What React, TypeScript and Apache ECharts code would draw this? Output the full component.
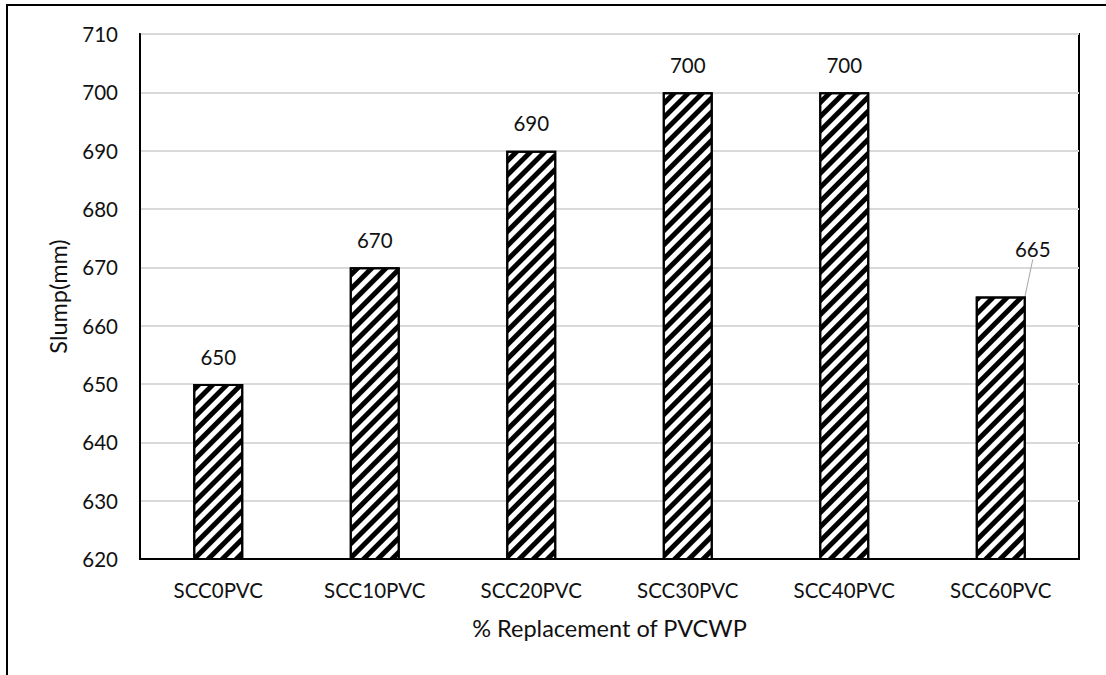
import React, { useEffect, useRef } from "react";
import * as echarts from "echarts";

const categories = ["SCC0PVC", "SCC10PVC", "SCC20PVC", "SCC30PVC", "SCC40PVC", "SCC60PVC"];
const slump = [650, 670, 690, 700, 700, 665];
const yMin = 620;
const yMax = 710;
const yStep = 10;
const xTitle = "% Replacement of PVCWP";
const yTitle = "Slump(mm)";

const FONT = "Lato, 'Noto Sans', sans-serif";
const TEXT = "#111";

export default function App() {
  const ref = useRef<HTMLDivElement>(null);

  useEffect(() => {
    if (!ref.current) return;
    const chart = echarts.init(ref.current, null, { renderer: "svg" });

    // the last label sits up and to the right of its bar, tied back by a leader line
    const data = slump.map((v, i) =>
      i === 5
        ? { value: v, labelLine: { show: true, lineStyle: { color: "#a6a6a6", width: 1 } } }
        : { value: v }
    );

    chart.setOption({
      animation: false,
      backgroundColor: "#fff",
      textStyle: { fontFamily: FONT },
      graphic: [
        {
          type: "rect",
          shape: { x: 7, y: 5, width: 1200, height: 800 },
          style: { fill: "none", stroke: "#000", lineWidth: 2 },
          silent: true,
        },
      ],
      grid: {
        left: 140,
        right: 27,
        top: 34,
        bottom: 116,
        show: true,
        borderColor: "#000",
        borderWidth: 2,
        backgroundColor: "transparent",
      },
      xAxis: {
        type: "category",
        data: categories,
        name: xTitle,
        nameLocation: "middle",
        nameGap: 57,
        nameTextStyle: { fontSize: 23.5, color: TEXT, fontFamily: FONT },
        axisLine: { show: true, lineStyle: { color: "#000", width: 2 } },
        axisTick: { show: false },
        axisLabel: { fontSize: 20.5, color: TEXT, margin: 20, fontFamily: FONT },
      },
      yAxis: {
        type: "value",
        min: yMin,
        max: yMax,
        interval: yStep,
        name: yTitle,
        nameLocation: "middle",
        nameGap: 70,
        nameRotate: 90,
        nameTextStyle: { fontSize: 23.5, color: TEXT, fontFamily: FONT },
        axisLine: { show: true, lineStyle: { color: "#000", width: 2 } },
        axisTick: { show: false },
        axisLabel: { fontSize: 20.5, color: TEXT, margin: 22, fontFamily: FONT },
        splitLine: { lineStyle: { color: "#d9d9d9", width: 2 } },
      },
      series: [
        {
          type: "bar",
          data,
          barWidth: 50,
          itemStyle: {
            color: "#fff",
            borderColor: "#000",
            borderWidth: 2,
            decal: {
              symbol: "rect",
              symbolSize: 1,
              color: "#000",
              dashArrayX: [1, 0],
              dashArrayY: [5, 5],
              rotation: -Math.PI / 4,
            },
          },
          label: {
            show: true,
            position: "top",
            distance: 17,
            fontSize: 20.5,
            color: TEXT,
            fontFamily: FONT,
          },
          labelLayout: (params: any) =>
            params.dataIndex === 5 ? { dx: 32, dy: -20 } : {},
        },
      ],
    });

    return () => chart.dispose();
  }, []);

  return (
    <div
      ref={ref}
      style={{ position: "fixed", left: 0, top: 0, width: 1106, height: 675 }}
    />
  );
}
